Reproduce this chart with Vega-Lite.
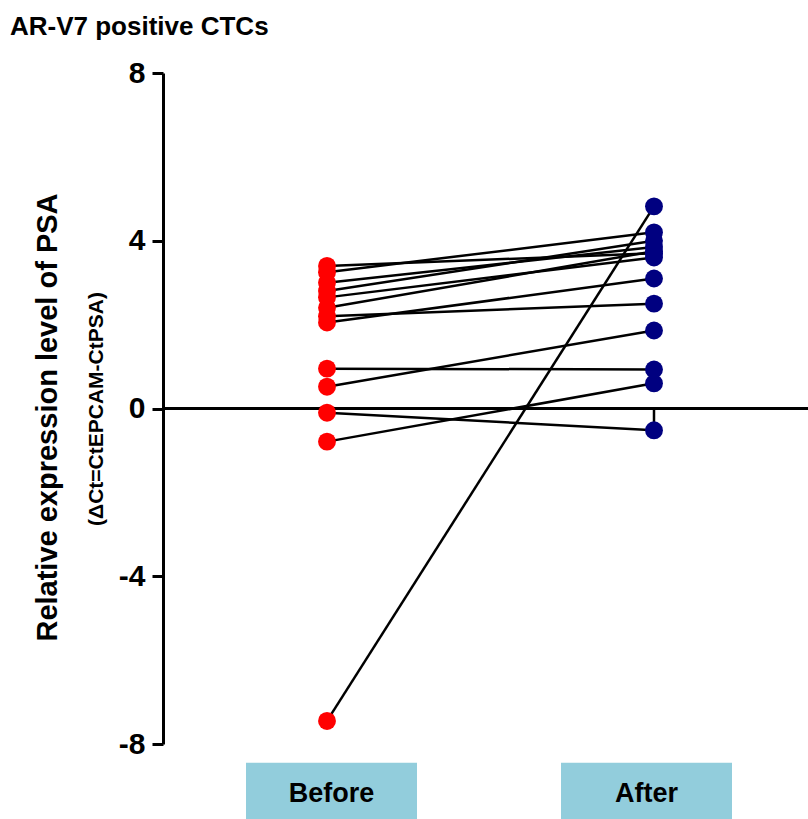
{
  "$schema": "https://vega.github.io/schema/vega-lite/v6.json",
  "width": 645,
  "height": 671,
  "autosize": {"type": "none"},
  "padding": {"left": 163, "top": 73, "right": 0, "bottom": 75},
  "background": "white",
  "config": {"view": {"stroke": null}},
  "title": {
    "text": "AR-V7 positive CTCs",
    "anchor": "start",
    "frame": "group",
    "dx": -153,
    "offset": 18,
    "font": "Liberation Sans",
    "fontSize": 26,
    "fontWeight": "bold",
    "color": "black"
  },
  "datasets": {
    "pts": [
      {"id": 1, "time": "Before", "value": 3.4},
      {"id": 1, "time": "After", "value": 3.7},
      {"id": 2, "time": "Before", "value": 3.25},
      {"id": 2, "time": "After", "value": 4.2},
      {"id": 3, "time": "Before", "value": 3.0},
      {"id": 3, "time": "After", "value": 3.85},
      {"id": 4, "time": "Before", "value": 2.8},
      {"id": 4, "time": "After", "value": 4.0},
      {"id": 5, "time": "Before", "value": 2.65},
      {"id": 5, "time": "After", "value": 3.6},
      {"id": 6, "time": "Before", "value": 2.4},
      {"id": 6, "time": "After", "value": 3.75},
      {"id": 7, "time": "Before", "value": 2.2},
      {"id": 7, "time": "After", "value": 2.5},
      {"id": 8, "time": "Before", "value": 2.05},
      {"id": 8, "time": "After", "value": 3.1},
      {"id": 9, "time": "Before", "value": 0.95},
      {"id": 9, "time": "After", "value": 0.93},
      {"id": 10, "time": "Before", "value": 0.52},
      {"id": 10, "time": "After", "value": 1.86},
      {"id": 11, "time": "Before", "value": -0.1},
      {"id": 11, "time": "After", "value": -0.52},
      {"id": 12, "time": "Before", "value": -0.79},
      {"id": 12, "time": "After", "value": 0.6},
      {"id": 13, "time": "Before", "value": -7.45},
      {"id": 13, "time": "After", "value": 4.82}
    ],
    "cats": [{"time": "Before"}, {"time": "After"}]
  },
  "layer": [
    {
      "data": {"name": "cats"},
      "mark": {"type": "bar", "width": 171, "color": "#92CDDC", "clip": false},
      "encoding": {
        "x": {"field": "time", "type": "nominal", "scale": {"type": "point", "domain": ["Before", "After"], "range": [168.5, 483.5], "padding": 0}, "axis": null},
        "y": {"datum": -8.45, "type": "quantitative", "scale": {"domain": [-8, 8], "nice": false, "zero": false}, "axis": null},
        "y2": {"datum": -9.9}
      }
    },
    {
      "data": {"name": "cats"},
      "mark": {"type": "text", "font": "Liberation Sans", "fontSize": 27, "fontWeight": "bold", "color": "black", "baseline": "middle", "align": "center", "clip": false},
      "encoding": {
        "x": {"field": "time", "type": "nominal", "scale": {"type": "point", "domain": ["Before", "After"], "range": [168.5, 483.5], "padding": 0}, "axis": null},
        "y": {"datum": -9.2, "type": "quantitative", "axis": null},
        "text": {"field": "time"}
      }
    },
    {
      "data": {"values": [{}]},
      "mark": {"type": "rule", "color": "black", "strokeWidth": 3},
      "encoding": {"y": {"datum": 0, "type": "quantitative", "axis": null}}
    },
    {
      "data": {"values": [{}]},
      "mark": {"type": "rule", "color": "black", "strokeWidth": 2.5},
      "encoding": {
        "x": {"datum": "After", "type": "nominal", "scale": {"type": "point", "domain": ["Before", "After"], "range": [164, 491], "padding": 0}, "axis": null},
        "y": {"datum": 0, "type": "quantitative", "axis": null},
        "y2": {"datum": -0.52}
      }
    },
    {
      "data": {"name": "pts"},
      "mark": {"type": "line", "color": "black", "strokeWidth": 2.5},
      "encoding": {
        "x": {"field": "time", "type": "nominal", "scale": {"type": "point", "domain": ["Before", "After"], "range": [164, 491], "padding": 0}, "axis": null},
        "y": {
          "field": "value",
          "type": "quantitative",
          "axis": {
            "orient": "left",
            "values": [-8, -4, 0, 4, 8],
            "labelExpr": "'' + datum.value",
            "grid": false,
            "domainWidth": 3,
            "domainColor": "black",
            "tickWidth": 3,
            "tickSize": 11,
            "tickColor": "black",
            "labelFont": "Liberation Sans",
            "labelFontSize": 30,
            "labelFontWeight": "bold",
            "labelColor": "black",
            "labelPadding": 7,
            "labelFlush": false,
            "title": "(ΔCt=CtEPCAM-CtPSA)",
            "titleFont": "Liberation Sans",
            "titleFontSize": 21,
            "titleFontWeight": "bold",
            "titleColor": "black",
            "titlePadding": 57,
            "minExtent": 0,
            "maxExtent": 0
          }
        },
        "detail": {"field": "id", "type": "nominal"}
      }
    },
    {
      "data": {"name": "pts"},
      "mark": {"type": "circle", "size": 320, "opacity": 1},
      "encoding": {
        "x": {"field": "time", "type": "nominal", "scale": {"type": "point", "domain": ["Before", "After"], "range": [164, 491], "padding": 0}, "axis": null},
        "y": {
          "field": "value",
          "type": "quantitative",
          "axis": {
            "orient": "left",
            "labels": false,
            "ticks": false,
            "domain": false,
            "grid": false,
            "title": "Relative expression level of PSA",
            "titleFont": "Liberation Sans",
            "titleFontSize": 29,
            "titleFontWeight": "bold",
            "titleColor": "black",
            "titlePadding": 101,
            "titleY": 344,
            "minExtent": 0,
            "maxExtent": 0
          }
        },
        "color": {"field": "time", "type": "nominal", "scale": {"domain": ["Before", "After"], "range": ["#FF0000", "#000080"]}, "legend": null}
      }
    }
  ],
  "resolve": {"axis": {"y": "independent"}, "scale": {"x": "independent"}}
}
